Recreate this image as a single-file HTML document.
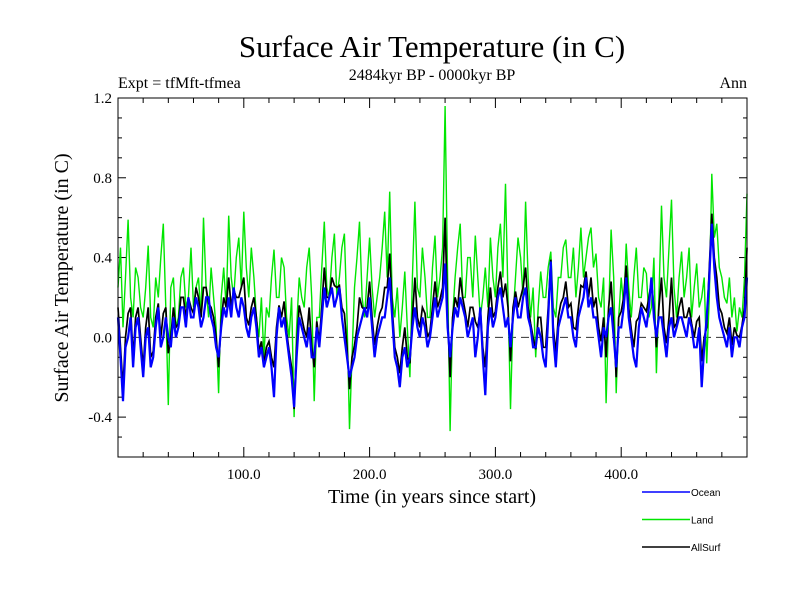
<!DOCTYPE html>
<html><head><meta charset="utf-8"><style>
body{margin:0;background:#fff;}
svg{display:block;}
text{font-family:"Liberation Serif",serif;fill:#000;}
.leg{font-family:"Liberation Sans",sans-serif;font-size:10px;}
</style></head><body>
<svg id="chart" width="800" height="600">
<text x="432" y="57" font-size="31" text-anchor="middle">Surface Air Temperature (in C)</text>
<text x="432" y="80" font-size="16" text-anchor="middle">2484kyr BP - 0000kyr BP</text>
<text x="118" y="88" font-size="16">Expt = tfMft-tfmea</text>
<text x="747" y="88" font-size="16" text-anchor="end">Ann</text>
<text x="432" y="503" font-size="20" text-anchor="middle">Time (in years since start)</text>
<text transform="translate(68,278) rotate(-90)" font-size="20" text-anchor="middle">Surface Air Temperature (in C)</text>
<g id="ticks"></g>
<g id="plot"></g>
<rect x="118" y="98" width="629" height="359" fill="none" stroke="#000" stroke-width="1"/>
<g id="legend"></g>
</svg>
<script>
const landVals=[0.25,0.45,0.05,0.3,0.59,0.2,0.1,0.35,0.3,0.15,0.1,0.25,0.46,0.1,0.05,0.3,0.2,0.4,0.57,0.15,
-0.34,0.25,0.3,0.05,0.1,0.3,0.35,0.15,0.2,0.45,0.15,0.25,0.3,0.1,0.6,0.25,0.1,0.35,0.2,0.05,
-0.28,0.2,0.35,0.15,0.61,0.3,0.2,0.4,0.5,0.25,0.63,0.35,0.2,0.45,0.3,0.1,0.0,0.2,-0.1,0.15,
0.1,0.3,0.44,0.2,0.2,0.4,0.35,0.1,0.0,0.2,-0.4,0.05,0.3,0.2,0.15,0.35,0.45,0.2,-0.32,0.1,
0.1,0.35,0.58,0.25,0.2,0.4,0.52,0.2,0.3,0.45,0.52,0.1,-0.46,-0.1,0.25,0.4,0.58,0.2,0.1,0.3,
0.5,0.25,0.1,0.2,0.3,0.45,0.63,0.3,0.73,0.2,0.1,0.25,0.0,0.15,0.33,0.05,-0.2,0.3,0.68,0.25,
0.2,0.45,0.3,0.1,0.1,0.35,0.51,0.2,0.3,0.45,1.16,0.3,-0.47,0.1,0.3,0.45,0.57,0.2,0.2,0.4,
0.4,0.2,0.51,0.3,0.1,0.2,0.35,0.15,0.5,0.3,0.2,0.45,0.57,0.3,0.77,0.2,-0.36,0.1,0.3,0.5,
0.4,0.2,0.68,0.3,0.1,0.25,-0.1,0.15,0.33,0.2,0.2,0.35,0.43,0.15,0.1,0.3,0.3,0.45,0.49,0.3,
0.3,0.45,0.2,0.35,0.55,0.3,0.4,0.5,0.55,0.35,0.42,0.2,0.15,0.3,-0.33,0.1,0.54,0.3,-0.28,0.1,
0.3,0.15,0.47,0.25,0.1,0.3,0.45,0.2,0.2,0.35,0.32,0.1,0.15,0.4,-0.18,0.2,0.66,0.3,0.2,0.45,
0.69,0.25,0.1,0.3,0.43,0.2,0.3,0.45,0.1,0.25,0.37,0.15,0.2,0.3,-0.13,0.2,0.82,0.5,0.57,0.35,
0.3,0.2,0.17,0.3,0.1,0.2,0.03,0.15,0.1,0.3,0.72];
const oceanVals=[0.1,-0.1,-0.32,-0.05,0.0,0.1,-0.15,0.05,0.1,-0.05,-0.2,0.0,0.05,-0.15,-0.1,0.05,0.15,-0.05,0.0,0.1,
0.0,-0.05,0.1,0.0,0.05,0.15,0.15,0.05,0.2,0.1,0.1,0.2,0.15,0.05,0.1,0.2,0.2,0.1,0.05,-0.05,
-0.1,0.05,0.15,0.1,0.2,0.1,0.25,0.15,0.1,0.2,0.15,0.05,0.0,0.1,0.15,0.05,-0.1,-0.05,-0.15,-0.1,
-0.05,-0.15,-0.3,0.0,0.15,0.05,0.1,0.0,-0.1,-0.2,-0.35,-0.1,0.1,0.05,0.0,-0.05,0.05,-0.1,-0.1,0.05,
-0.05,0.1,0.25,0.15,0.2,0.25,0.15,0.2,0.25,0.1,0.0,-0.1,-0.2,-0.15,-0.1,0.0,0.05,0.1,0.15,0.1,
0.2,0.05,-0.1,0.0,0.05,0.1,0.1,0.2,0.3,0.1,-0.1,-0.15,-0.25,-0.1,-0.05,-0.15,-0.1,0.05,0.15,0.05,
0.0,0.1,0.05,-0.05,0.0,0.1,0.2,0.1,0.15,0.2,0.37,0.05,-0.1,0.05,0.15,0.1,0.2,0.15,0.1,0.0,
0.05,0.1,-0.1,0.0,0.15,-0.1,-0.29,0.05,0.15,0.05,0.1,0.2,0.25,0.15,0.05,0.1,-0.05,0.1,0.2,0.1,
0.1,0.2,0.25,0.1,0.05,-0.05,-0.05,0.05,0.0,-0.1,-0.15,0.1,0.38,0.0,-0.15,0.05,0.1,0.15,0.2,0.1,
0.1,0.0,-0.05,0.1,0.15,0.2,0.3,0.15,0.2,0.1,0.1,0.0,-0.1,0.05,0.0,0.1,0.15,0.0,-0.15,0.05,
0.05,0.15,0.3,0.1,0.0,-0.1,-0.15,0.05,0.15,0.1,0.05,0.15,0.3,0.1,0.0,0.1,0.1,0.0,-0.1,0.05,
0.1,0.0,0.05,0.1,0.1,0.05,0.0,0.1,0.05,-0.05,-0.05,0.05,-0.25,-0.05,0.1,0.3,0.57,0.35,0.2,0.1,
0.05,0.0,-0.05,0.05,-0.1,0.0,0.0,-0.05,0.05,0.1,0.3];
const allVals=[0.15,-0.05,-0.25,0.0,0.12,0.15,-0.1,0.1,0.15,0.0,-0.15,0.05,0.15,-0.1,-0.07,0.1,0.17,0.0,0.12,0.15,
-0.08,0.0,0.15,0.05,0.07,0.2,0.2,0.1,0.2,0.15,0.12,0.25,0.2,0.1,0.25,0.25,0.17,0.15,0.1,0.0,
-0.15,0.08,0.2,0.15,0.3,0.15,0.24,0.2,0.2,0.25,0.3,0.1,0.06,0.15,0.2,0.1,-0.07,-0.02,-0.13,-0.05,
-0.02,-0.1,-0.15,0.05,0.16,0.1,0.18,0.03,-0.07,-0.15,-0.36,-0.05,0.16,0.1,0.04,0.0,0.15,-0.05,-0.15,0.08,
-0.02,0.15,0.35,0.2,0.2,0.3,0.26,0.25,0.26,0.15,0.12,-0.05,-0.26,-0.1,-0.04,0.05,0.2,0.15,0.14,0.15,
0.28,0.1,-0.04,0.05,0.12,0.15,0.25,0.25,0.42,0.15,-0.05,-0.1,-0.18,-0.05,0.05,-0.1,-0.13,0.1,0.3,0.1,
0.05,0.15,0.12,0.0,0.03,0.15,0.28,0.15,0.19,0.25,0.6,0.1,-0.2,0.1,0.2,0.15,0.3,0.2,0.13,0.05,
0.15,0.15,0.08,0.05,0.14,-0.05,-0.15,0.1,0.25,0.1,0.13,0.25,0.33,0.2,0.27,0.15,-0.12,0.15,0.23,0.15,
0.2,0.25,0.35,0.15,0.07,0.0,-0.06,0.1,0.1,-0.05,-0.05,0.15,0.39,0.05,-0.08,0.1,0.17,0.2,0.28,0.15,
0.17,0.05,0.04,0.15,0.26,0.25,0.33,0.2,0.3,0.15,0.2,0.05,-0.02,0.1,-0.1,0.15,0.28,0.05,-0.2,0.1,
0.13,0.2,0.36,0.15,0.04,-0.05,0.08,0.1,0.17,0.15,0.13,0.2,0.28,0.15,-0.05,0.15,0.3,0.05,-0.03,0.1,
0.3,0.05,0.07,0.15,0.2,0.1,0.1,0.15,0.07,0.0,0.08,0.1,-0.12,0.0,0.05,0.35,0.62,0.4,0.3,0.15,
0.12,0.05,0.02,0.1,-0.04,0.05,0.01,0.0,0.06,0.15,0.45];
const yearStep=2;
const yTickVals=[1.2,0.8,0.4,0.0,-0.4];
const xTickVals=[100,200,300,400];
const legendNames=["Ocean","Land","AllSurf"];
const legendColors=["#0000ff","#00e600","#000000"];

const X0=118,X1=747,Y0=98,Y1=457;
function xs(t){return X0+(t/500)*(X1-X0);}
function ys(v){return Y1-(v+0.6)/1.8*(Y1-Y0);}
const NS="http://www.w3.org/2000/svg";
function mk(tag,attrs,parent){const e=document.createElementNS(NS,tag);for(const k in attrs)e.setAttribute(k,attrs[k]);parent.appendChild(e);return e;}
const tg=document.getElementById('ticks');
for(let v=-0.6;v<=1.2001;v+=0.1){
  const r=Math.round(v*10);const major=r%4===0;const L=major?8:4;const y=ys(r/10);
  const a=mk('line',{x1:X0,x2:X0+L,y1:y,y2:y,stroke:'#000'},tg);
  
  
  const b=mk('line',{x1:X1-L,x2:X1,y1:y,y2:y,stroke:'#000'},tg);
  
  
}
yTickVals.forEach(v=>{
  const t=mk('text',{x:X0-6,y:ys(v)+5,'font-size':15,'text-anchor':'end'},tg);
  t.textContent=v.toFixed(1);
  
  
});
for(let t=20;t<500;t+=20){
  const major=t%100===0;const L=major?10:5;const x=xs(t);
  const a=mk('line',{x1:x,x2:x,y1:Y1,y2:Y1-L,stroke:'#000'},tg);
  
  
  const b=mk('line',{x1:x,x2:x,y1:Y0,y2:Y0+L,stroke:'#000'},tg);
  
  
}
xTickVals.forEach(v=>{
  const t=mk('text',{x:xs(v),y:Y1+22,'font-size':15,'text-anchor':'middle'},tg);
  t.textContent=v.toFixed(1);
  
  
});
const pg=document.getElementById('plot');
const z=mk('line',{x1:X0,x2:X1,y1:ys(0),y2:ys(0),stroke:'#333','stroke-dasharray':'8,5'},pg);


function pts(arr){return arr.map((v,i)=>xs(i*yearStep).toFixed(1)+','+ys(v).toFixed(1)).join(' ');}
const lg=mk('polyline',{points:pts(landVals),fill:'none',stroke:'#00e600','stroke-width':1.4},pg);


const al=mk('polyline',{points:pts(allVals),fill:'none',stroke:'#000','stroke-width':1.7},pg);


const oc=mk('polyline',{points:pts(oceanVals),fill:'none',stroke:'#0000ff','stroke-width':2.2},pg);


const leg=document.getElementById('legend');
legendNames.forEach((n,i)=>{
  const y=492+i*27.5;
  const l=mk('line',{x1:642,x2:690,y1:y,y2:y,stroke:legendColors[i],'stroke-width':1.5},leg);
  
  
  const t=mk('text',{x:691,y:y+4,class:'leg'},leg);
  t.textContent=n;
  
  
});
</script>
</body></html>
